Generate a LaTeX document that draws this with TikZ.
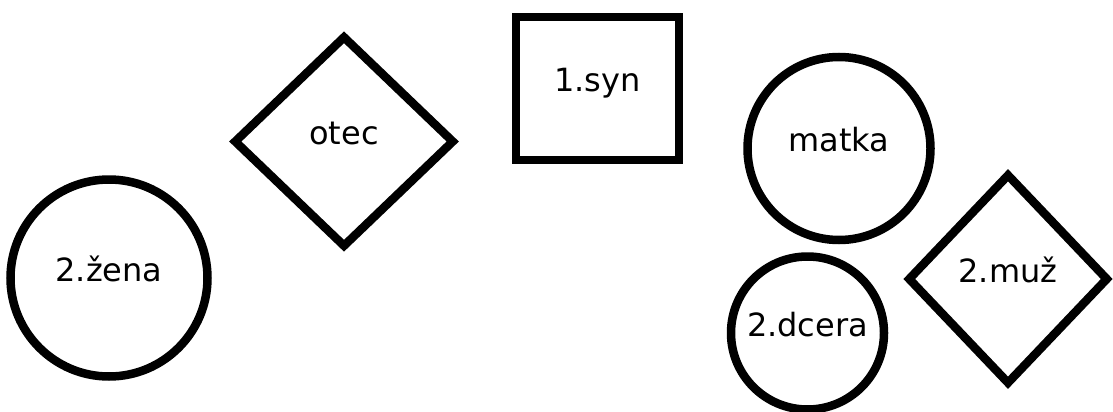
\documentclass[tikz,border=0pt]{standalone}
\usepackage{fontspec}
\setmainfont{DejaVu Sans}
\usetikzlibrary{shapes.geometric}
\tikzset{
 osoba/.style = {align=center, inner sep=0pt, draw=black, line width=8.5pt,
    font=\fontsize{32}{38}\selectfont, text height=0.62em, text depth=0pt},
  osoba_z/.style = {osoba, circle},% zena, kruh
  osoba_m/.style = {osoba, diamond},% muz, kosoctverec
  osoba_s/.style = {osoba, rectangle}% syn, ctverec
}
\begin{document}
\begin{tikzpicture}[x=1pt,y=-1pt]
  \useasboundingbox (0,0) rectangle (1113,412);
  \node [osoba_z, minimum size=197] (zena) at (109,278) {2.žena};
  \node [osoba_m, minimum width=221, minimum height=212] (otec) at (344,141.5) {otec};
  \node [osoba_s, minimum width=163, minimum height=143] (syn) at (597.5,88.5) {1.syn};
  \node [osoba_z, minimum size=183] (matka) at (839,148.5) {matka};
  \node [osoba_z, minimum size=153] (dcera) at (807.5,333) {2.dcera};
  \node [osoba_m, minimum width=201, minimum height=211] (muz) at (1008,279) {2.muž};
\end{tikzpicture}
\end{document}
